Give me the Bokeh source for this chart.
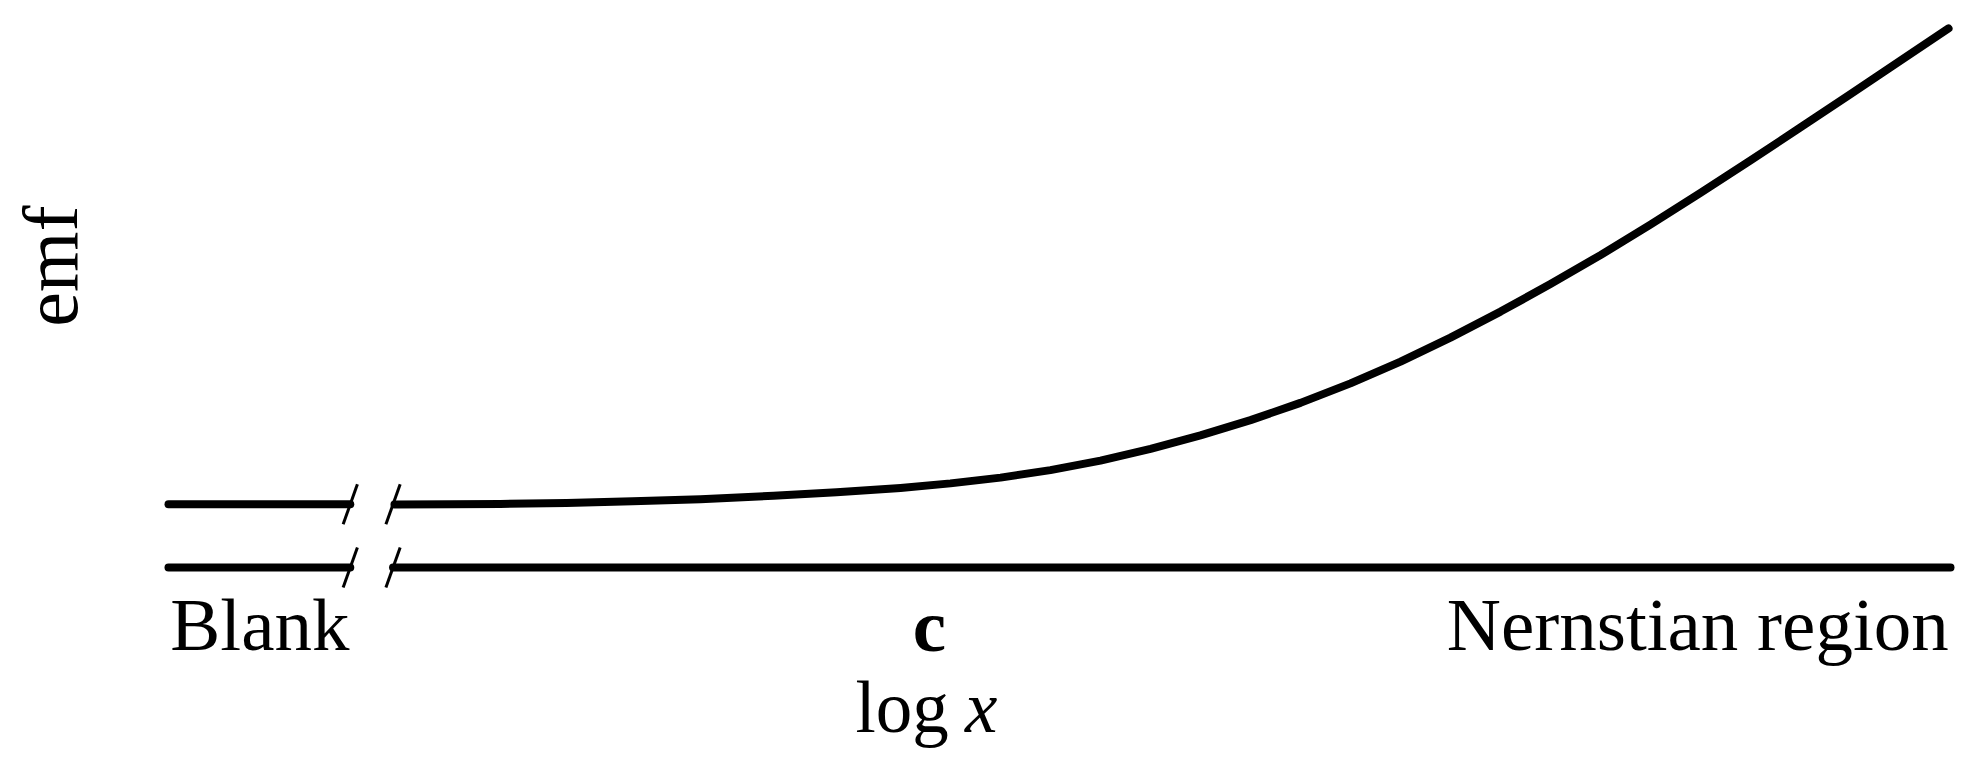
import numpy as np
from bokeh.plotting import figure
from bokeh.models import Range1d
from bokeh.core.properties import value
from bokeh.embed import file_html
from bokeh.resources import INLINE

# ---- data (arbitrary units: x = log x, y = emf) ----
blank_x = [0.0, 1.02]
blank_emf = 1.17
curve_x = [1.268, 1.582, 1.863, 2.233, 2.604, 2.985, 3.395, 3.749, 4.108, 4.388,
           4.669, 4.949, 5.230, 5.511, 5.791, 6.072, 6.352, 6.633, 6.914, 7.194,
           7.475, 7.755, 8.036, 8.316, 8.597, 8.878, 9.158, 9.439, 9.719, 9.989]
curve_emf = [1.167, 1.170, 1.177, 1.196, 1.226, 1.266, 1.327, 1.392, 1.474, 1.558,
             1.664, 1.803, 1.979, 2.197, 2.447, 2.729, 3.049, 3.410, 3.812, 4.257,
             4.739, 5.248, 5.785, 6.350, 6.937, 7.539, 8.150, 8.767, 9.387, 9.983]
axis_left_x = [0.0, 1.02]
axis_right_x = [1.26, 10.0]
break_x = [1.02, 1.26]
break_levels = [1.17, 0.0]

# category labels under the axis
label_blank = "Blank"
label_c = "c"
label_nernst = "Nernstian region"
c_pos = 4.27
xlabel_main = "log "
xlabel_var = "x"
ylabel = "emf"

FONT = value("Liberation Serif")
FS = value("75px")
FS2 = value("73px")
FS3 = value("78px")
LW = 8

p = figure(width=1982, height=767, output_backend="svg", toolbar_location=None,
           x_axis_location=None, y_axis_location=None, min_border=0,
           x_range=Range1d(-0.9428, 10.1796), y_range=Range1d(-3.7037, 10.5))
p.grid.visible = False
p.outline_line_color = None
p.background_fill_color = "white"
p.border_fill_color = "white"

# blank-level line
p.line(blank_x, [blank_emf] * len(blank_x), line_width=LW, line_color="black", line_cap="round")
# response curve
p.line(curve_x, curve_emf, line_width=LW, line_color="black", line_cap="round", line_join="round")
# x axis line (broken)
p.line(axis_left_x, [0, 0], line_width=LW, line_color="black", line_cap="round")
p.line(axis_right_x, [0, 0], line_width=LW, line_color="black", line_cap="round")

# break marks (slashes)
x0s, y0s, x1s, y1s = [], [], [], []
for lvl in break_levels:
    for bx in break_x:
        x0s.append(bx - 0.04); y0s.append(lvl - 0.37)
        x1s.append(bx + 0.04); y1s.append(lvl + 0.37)
p.segment(x0=x0s, y0=y0s, x1=x1s, y1=y1s, line_width=3, line_color="black")

# labels
p.text(x=[axis_left_x[0] + 0.01], y=[-1.05], text=[label_blank], text_font=FONT, text_font_size=FS,
       text_align="left", text_baseline="alphabetic", text_color="black")
p.text(x=[axis_right_x[1] - 0.01], y=[-1.05], text=[label_nernst], text_font=FONT, text_font_size=FS,
       text_align="right", text_baseline="alphabetic", text_color="black")
p.text(x=[c_pos], y=[-1.07], text=[label_c], text_font=FONT, text_font_size=FS,
       text_font_style="bold", text_align="center", text_baseline="alphabetic", text_color="black")
p.text(x=[3.855], y=[-2.60], text=[xlabel_main], text_font=FONT, text_font_size=FS2,
       text_align="left", text_baseline="alphabetic", text_color="black")
p.text(x=[4.652], y=[-2.60], text=[xlabel_var], text_font=FONT, text_font_size=FS2,
       text_font_style="italic", text_align="right", text_baseline="alphabetic", text_color="black")
p.text(x=[-0.662], y=[5.58], text=[ylabel], text_font=FONT, text_font_size=FS3,
       angle=np.pi / 2, text_align="center", text_baseline="alphabetic", text_color="black")

open("out.html", "w").write(file_html(p, INLINE))
